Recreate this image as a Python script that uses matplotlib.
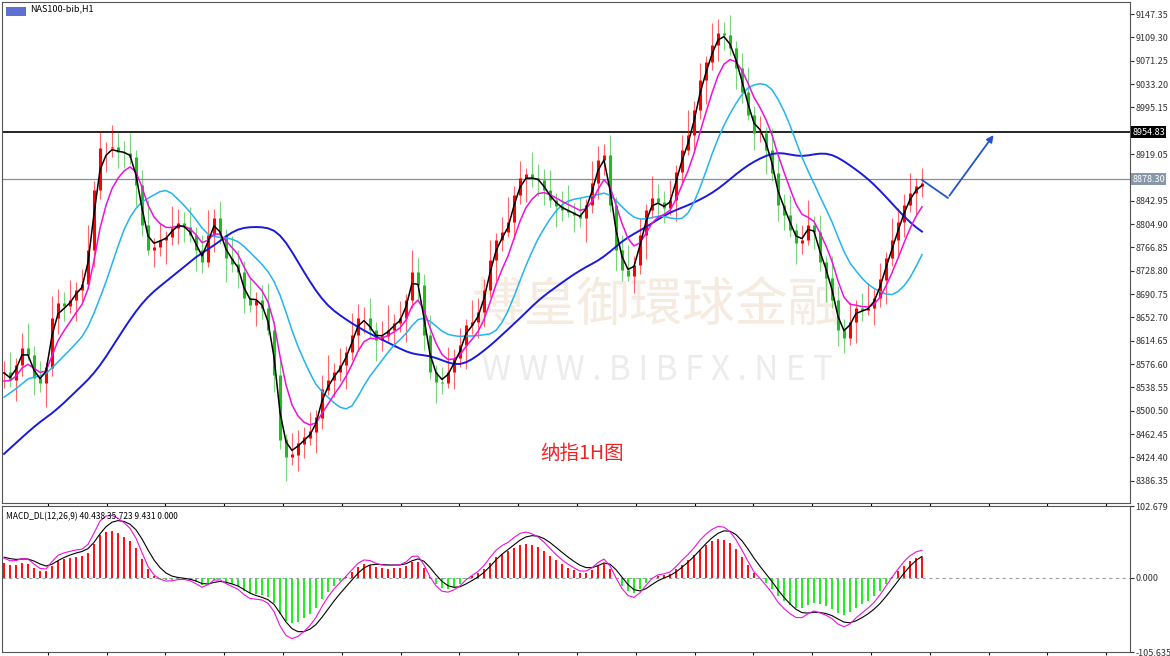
import numpy as np
import pandas as pd
import matplotlib
matplotlib.use("Agg")
import matplotlib.pyplot as plt
from matplotlib.patches import FancyArrowPatch

plt.rcParams['font.family'] = ['Noto Sans CJK SC', 'DejaVu Sans']

history = [8250, 8262, 8258, 8275, 8290, 8284, 8305, 8318, 8312, 8335, 8350, 8344, 8366, 8380,
           8374, 8398, 8412, 8405, 8428, 8440, 8434, 8455, 8470, 8462, 8485, 8498, 8490, 8512,
           8525, 8516, 8535, 8548, 8540, 8556, 8562]
closes = [8563.8, 8550.8, 8575.2, 8603.0, 8591.5, 8554.0, 8546.0, 8570.5, 8652.0, 8676.3, 8671.5, 8681.3,
          8697.6, 8707.4, 8762.8, 8860.6, 8929.0, 8929.0, 8930.7, 8922.5, 8920.9, 8914.4, 8868.8, 8803.6,
          8762.8, 8767.7, 8779.1, 8784.0, 8798.7, 8806.8, 8800.3, 8787.3, 8762.8, 8743.3, 8787.3, 8815.0,
          8787.3, 8749.8, 8740.0, 8727.0, 8684.6, 8673.2, 8681.3, 8668.3, 8632.4, 8559.0, 8453.2, 8425.5,
          8428.7, 8446.6, 8456.4, 8466.2, 8489.0, 8534.6, 8550.8, 8563.8, 8575.2, 8596.4, 8624.1, 8651.9,
          8651.9, 8632.4, 8616.1, 8622.6, 8632.4, 8643.8, 8651.9, 8681.3, 8727.0, 8705.8, 8624.1, 8563.8,
          8547.5, 8545.9, 8563.8, 8586.6, 8607.8, 8640.4, 8645.3, 8661.6, 8697.6, 8746.5, 8779.1, 8792.1,
          8808.4, 8852.4, 8880.1, 8886.7, 8880.1, 8876.8, 8860.6, 8844.3, 8834.4, 8828.0, 8824.7, 8819.8,
          8815.0, 8836.2, 8872.0, 8909.5, 8917.7, 8836.2, 8762.8, 8730.2, 8720.4, 8738.4, 8787.3, 8828.0,
          8847.6, 8841.1, 8831.2, 8844.3, 8889.9, 8925.8, 8950.3, 8991.0, 9039.9, 9069.3, 9097.0, 9116.6,
          9113.3, 9092.1, 9059.5, 9020.4, 8982.9, 8953.6, 8953.6, 8925.8, 8888.3, 8836.2, 8819.8, 8795.4,
          8774.2, 8779.1, 8803.6, 8792.1, 8743.3, 8717.2, 8681.3, 8632.4, 8619.4, 8645.3, 8668.3, 8665.0,
          8668.3, 8684.6, 8714.0, 8749.8, 8779.1, 8808.4, 8836.2, 8855.8, 8867.2, 8872.0]
wick_up = [18, 32, 12, 24, 40, 15, 28, 9, 35, 22]
wick_dn = [24, 12, 35, 18, 9, 28, 15, 40, 14, 26]
level_black = 8954.83
level_grey = 8878.30
yticks_main = [9147.35, 9109.30, 9071.25, 9033.20, 8995.15, 8919.05, 8842.95, 8804.90, 8766.85,
               8728.80, 8690.75, 8652.70, 8614.65, 8576.60, 8538.55, 8500.50, 8462.45, 8424.40, 8386.35]

allc = pd.Series(history + closes, dtype=float)
nh = len(history)
n = len(closes)
black = allc.ewm(span=2, adjust=False).mean().values[nh:]
mag = allc.ewm(span=6, adjust=False).mean().values[nh:]
cyan = allc.rolling(13, min_periods=1).mean().values[nh:]
blue = allc.rolling(30, min_periods=1).mean().rolling(4, min_periods=1).mean().values[nh:]
macd = (allc.ewm(span=6, adjust=False).mean() - allc.ewm(span=13, adjust=False).mean())
sig = macd.ewm(span=4, adjust=False).mean()
macd = macd.values[nh:]
sig = sig.values[nh:]

W, H = 1170, 656
fig = plt.figure(figsize=(W/100, H/100), dpi=100)
ax = fig.add_axes([2/W, 1-503/H, 1128/W, 501/H])
axm = fig.add_axes([2/W, 1-652/H, 1128/W, 146/H])
x = np.arange(n)
for a in (ax, axm):
    a.set_xlim(-1/3, 187.67)
    for s in a.spines.values():
        s.set_color('#555555'); s.set_linewidth(0.8)
    a.yaxis.tick_right()
    a.tick_params(axis='y', labelsize=6.5, length=3, pad=1, colors='#333333')
    a.set_xticks(np.arange(7.3, 187, 9.8))
    a.tick_params(axis='x', length=2, labelbottom=False)

ax.set_ylim(8350, 9167)
ax.set_yticks(yticks_main)
ax.set_yticklabels([f"{v:.2f}" for v in yticks_main])

# watermark
ax.text(655/1128, 1-(305-2)/501, "博皇御環球金融", transform=ax.transAxes, ha='center', va='center',
        fontsize=38, color='#f5ebe0', zorder=0)
ax.text(655/1128, 1-(370-2)/501, "W W W . B I B F X . N E T", transform=ax.transAxes, ha='center', va='center',
        fontsize=24, color='#ececec', zorder=0)

opens = np.r_[history[-1], closes[:-1]]
for i in range(n):
    o, c = opens[i], closes[i]
    col = '#ff0000' if c >= o else '#22bb22'
    hi = max(o, c) + wick_up[i % 10]
    lo = min(o, c) - wick_dn[i % 10]
    ax.vlines(i, lo, hi, color=col, lw=0.8, alpha=0.6, zorder=2)
    ax.vlines(i, min(o, c), max(o, c) + 0.5, color=col, lw=2.2, zorder=2)

ax.plot(x, blue, color='#1a1adc', lw=1.4, zorder=3)
ax.plot(x, cyan, color='#22b4f0', lw=1.1, zorder=3)
ax.plot(x, mag, color='#ee11dd', lw=1.1, zorder=4)
ax.plot(x, black, color='#000000', lw=1.1, zorder=5)

ax.axhline(level_black, color='black', lw=1.2, zorder=1)
ax.axhline(level_grey, color='#8090a0', lw=0.9, zorder=1)
ax.text(1.002, level_black, f"{level_black:.2f}", transform=ax.get_yaxis_transform(), fontsize=6.5,
        color='white', va='center', ha='left', bbox=dict(fc='black', ec='none', pad=1))
ax.text(1.002, level_grey, f"{level_grey:.2f}", transform=ax.get_yaxis_transform(), fontsize=6.5,
        color='white', va='center', ha='left', bbox=dict(fc='#8898a8', ec='none', pad=1))

ax.plot([153, 157.3], [8876.8, 8847.6], color='#2255cc', lw=1.3)
ax.add_patch(FancyArrowPatch((157.3, 8847.6), (165.2, 8953.6), arrowstyle='-|>', mutation_scale=10,
                             color='#2255cc', lw=1.3))

ax.text(580/1128, 1-(453-2)/501, "纳指1H图", transform=ax.transAxes, ha='center', va='center',
        fontsize=14, color='#ee2222')
ax.text(28/1128, 1-(9-2)/501, "NAS100-bib,H1", transform=ax.transAxes, ha='left', va='center', fontsize=6.5)
ax.add_patch(plt.Rectangle((4/1128, 1-14/501), 20/1128, 9/501, transform=ax.transAxes, fc='#6070d0', ec='none'))

# MACD
axm.set_ylim(-105.635, 102.679)
axm.set_yticks([102.679, 0, -105.635])
axm.set_yticklabels(['102.679', '0.000', '-105.635'])
axm.axhline(0, color='#9aa0a8', lw=0.8, ls=(0, (3, 3)))
hist = macd * 0.75
axm.bar(x, hist, width=0.35, color=np.where(hist >= 0, '#ff1111', '#22ee22'))
axm.plot(x, sig, color='black', lw=0.8)
axm.plot(x, macd, color='#ee11dd', lw=0.8)
axm.text(4/1128, 0.93, "MACD_DL(12,26,9) 40.438 35.723 9.431 0.000", transform=axm.transAxes,
         fontsize=6, va='center', ha='left')

fig.savefig('out.png', dpi=100, facecolor='white')
